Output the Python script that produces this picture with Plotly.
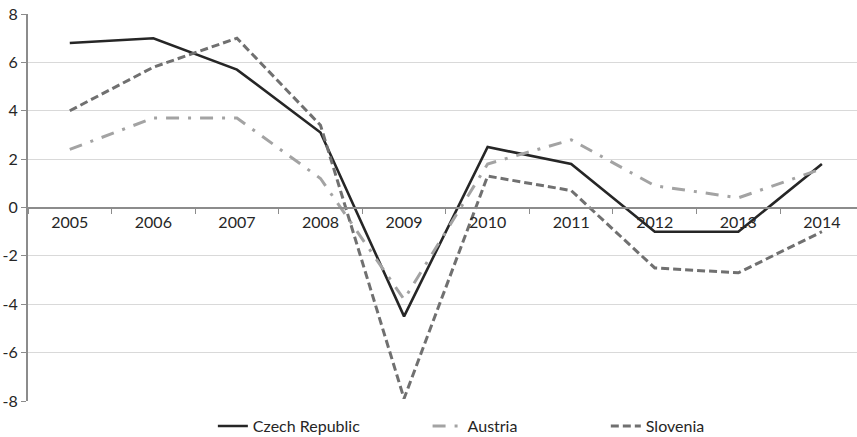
import plotly.graph_objects as go

# Annual real GDP growth, %
years = ["2005", "2006", "2007", "2008", "2009", "2010", "2011", "2012", "2013", "2014"]
czech = [6.8, 7.0, 5.7, 3.1, -4.5, 2.5, 1.8, -1.0, -1.0, 1.8]
austria = [2.4, 3.7, 3.7, 1.2, -3.8, 1.8, 2.8, 0.9, 0.4, 1.6]
slovenia = [4.0, 5.8, 7.0, 3.4, -7.9, 1.3, 0.7, -2.5, -2.7, -1.0]

y_ticks = [-8, -6, -4, -2, 0, 2, 4, 6, 8]
y_tick_text = ["-8", "-6", "-4", "-2", "0", "2", "4", "6", "8"]

FONT = "Lato, 'Open Sans', sans-serif"
TEXT = "#262626"

fig = go.Figure()
fig.add_trace(go.Scatter(
    x=years, y=czech, name="Czech Republic", mode="lines", showlegend=True,
    line=dict(color="#262626", width=2.6), legend="legend"))
fig.add_trace(go.Scatter(
    x=years, y=austria, name="Austria", mode="lines", showlegend=True,
    line=dict(color="#a3a3a3", width=3, dash="13px,9px,3px,9px"), legend="legend2"))
fig.add_trace(go.Scatter(
    x=years, y=slovenia, name="Slovenia", mode="lines", showlegend=True,
    line=dict(color="#707070", width=3, dash="8px,4px"), legend="legend3"))

legend_common = dict(orientation="h", yref="container", yanchor="middle", y=0.025,
                     xanchor="left",
                     font=dict(family=FONT, size=16, color=TEXT),
                     bgcolor="rgba(0,0,0,0)", borderwidth=0)

fig.update_layout(
    width=857, height=437,
    showlegend=True,
    margin=dict(l=28, r=0, t=14, b=36, autoexpand=False),
    paper_bgcolor="white", plot_bgcolor="white",
    font=dict(family=FONT, size=16, color=TEXT),
    legend=dict(x=0.223, **legend_common),
    legend2=dict(x=0.482, **legend_common),
    legend3=dict(x=0.697, **legend_common),
    xaxis=dict(
        type="category", range=[-0.5, 9.42],
        anchor="free", position=0.5,
        showline=True, linecolor="#8c8c8c", linewidth=2,
        showgrid=False, tickson="boundaries",
        ticks="outside", ticklen=5, tickcolor="#8c8c8c", tickwidth=1,
        tickfont=dict(family=FONT, size=16, color=TEXT),
    ),
    yaxis=dict(
        range=[-8, 8], tickvals=y_ticks, ticktext=y_tick_text,
        showline=True, linecolor="#8c8c8c", linewidth=2,
        showgrid=True, gridcolor="#d9d9d9", gridwidth=1,
        zeroline=False,
        ticks="outside", ticklen=5, tickcolor="#8c8c8c", tickwidth=1,
        tickfont=dict(family=FONT, size=16, color=TEXT),
    ),
)

fig.write_html("out.html")
